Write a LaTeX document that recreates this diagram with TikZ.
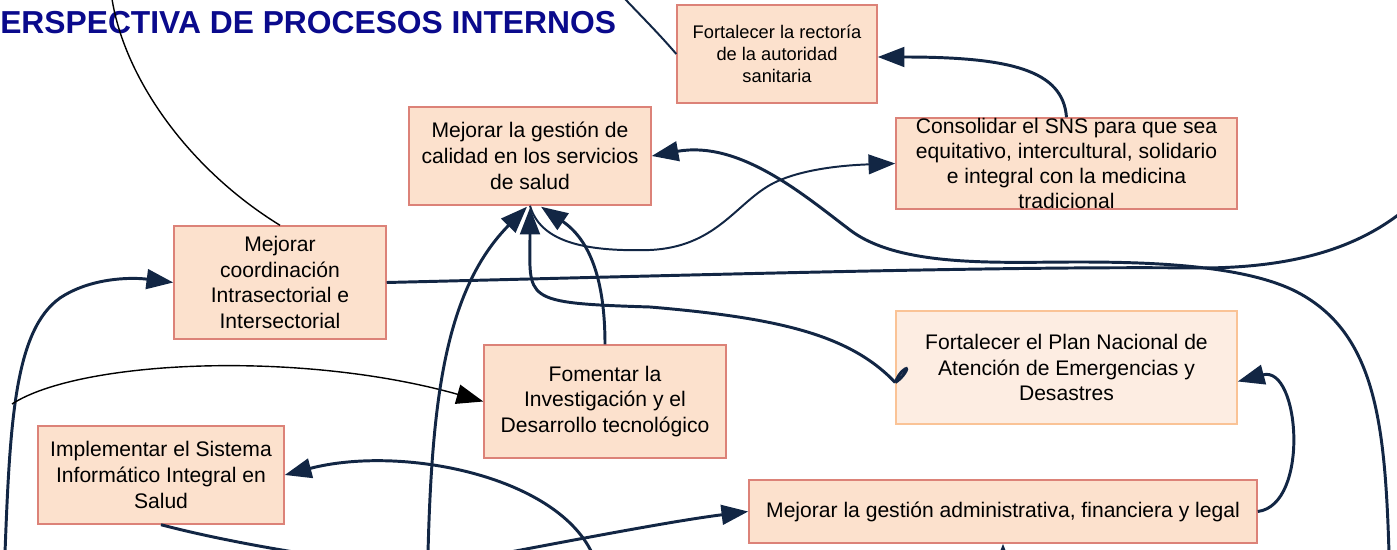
\documentclass[tikz,border=0pt]{standalone}
\usepackage{fontspec}
\setmainfont{Liberation Sans}
\usetikzlibrary{arrows.meta,calc}
\definecolor{peach}{RGB}{252,225,205}
\definecolor{salmon}{RGB}{220,130,120}
\definecolor{peachlt}{RGB}{253,237,226}
\definecolor{orangeb}{RGB}{250,195,150}
\definecolor{navy}{RGB}{18,38,68}
\definecolor{titleblue}{RGB}{10,10,140}
\tikzset{
  pbox/.style={draw=salmon, fill=peach, line width=1pt, align=center, inner sep=4pt,
    font=\fontsize{15}{18.4}\selectfont},
  pboxlt/.style={pbox, draw=orangeb, fill=peachlt},
  txt/.style={align=center, inner sep=0pt},
  nav/.style={draw=navy, line width=2.1pt},
  navthin/.style={draw=navy, line width=1.4pt},
  blk/.style={draw=black, line width=1pt},
  arr/.style={-{Triangle[length=19pt,width=14pt]}},
}
\begin{document}
\begin{tikzpicture}[x=0.025cm,y=-0.025cm]
\useasboundingbox (0,0) rectangle (1397,550);
\clip (0,0) rectangle (1397,550);
\node[anchor=base west, inner sep=0pt, text=titleblue, font=\bfseries\fontsize{22.6}{26}\selectfont] (title) at (0,34) {ERSPECTIVA DE PROCESOS INTERNOS};

% boxes
\node[pbox, minimum width=5cm, minimum height=2.45cm, font=\fontsize{13}{15.6}\selectfont] (rect) at (777,54) {Fortalecer la rectoría\\de la autoridad\\sanitaria};
\node[pbox, minimum width=6.05cm, minimum height=2.45cm] (cal) at (530,156) {Mejorar la gestión de\\calidad en los servicios\\de salud};
\node[pbox, minimum width=8.525cm, minimum height=2.275cm] (sns) at (1066.5,163.5) {};
\node[txt, font=\fontsize{15}{17.7}\selectfont] (snst) at (sns.center) {Consolidar el SNS para que sea\\equitativo, intercultural, solidario\\e integral con la medicina\\tradicional};
\node[pbox, minimum width=5.3cm, minimum height=2.825cm] (coord) at (280,282.5) {Mejorar\\coordinación\\Intrasectorial e\\Intersectorial};
\node[pbox, minimum width=6.05cm, minimum height=2.825cm] (fom) at (605,401.5) {Fomentar la\\Investigación y el\\Desarrollo tecnológico};
\node[pboxlt, minimum width=8.525cm, minimum height=2.825cm] (plan) at (1066.5,367.5) {Fortalecer el Plan Nacional de\\Atención de Emergencias y\\Desastres};
\node[pbox, minimum width=6.15cm, minimum height=2.45cm] (impl) at (161,475) {Implementar el Sistema\\Informático Integral en\\Salud};
\node[pbox, minimum width=12.7cm, minimum height=1.575cm] (adm) at (1003,511.5) {Mejorar la gestión administrativa, financiera y legal};

% free ends
\coordinate (tA) at (112,-1);
\coordinate (tB) at (625,-1);
\coordinate (tD) at (1389,553);
\coordinate (tF) at (1402,212);
\coordinate (tG) at (5,553);
\coordinate (tH) at (12,404);
\coordinate (tK) at (592,553);
\coordinate (tL) at (300,553);
\coordinate (tM) at (505,553);
\coordinate (tN) at (428,553);
\coordinate (tP) at (1003,600);

% connectors
\draw[blk] (tA) .. controls (125,80) and (190,170) .. (coord.north);
\draw[navthin] (tB) .. controls (645,20) and (660,35) .. (rect.west);
\draw[nav,arr] (sns.north) .. controls (1063,70) and (1010,57) .. ($(rect.east)+(0,3)$);
\draw[nav,arr] (tD) .. controls (1385,420) and (1375,330) .. (1293,290)
  .. controls (1240,265) and (1150,262) .. (1078,262)
  .. controls (1000,262) and (900,268) .. (850,230)
  .. controls (805,196) and (740,140) .. (cal.east);
\draw[navthin,arr] (cal.south) .. controls (540,240) and (580,252) .. (650,250)
  .. controls (715,247) and (735,205) .. (770,185)
  .. controls (800,168) and (850,165) .. (sns.west);
\draw[nav] (coord.east) .. controls (700,275) and (1000,266) .. (1200,268)
  .. controls (1300,268) and (1360,245) .. (tF);
\draw[nav,arr] (tG) .. controls (10,420) and (15,330) .. (60,298)
  .. controls (90,278) and (130,277) .. (coord.west);
\draw[blk,arr] (tH) .. controls (80,360) and (300,350) .. (fom.west);
\draw[nav,arr] (fom.north) .. controls (605,280) and (590,240) .. ($(cal.south)+(11,1)$);
\draw[nav,arr] ($(plan.west)+(0,15)$) .. controls (850,335) and (780,318) .. (650,307)
  .. controls (520,303) and (530,300) .. ($(cal.south)+(0,2)$);
\draw[nav] ($(plan.west)+(0,15)$) .. controls (903,378) and (910,366) .. (905,369)
  .. controls (900,372) and (897,378) .. ($(plan.west)+(0,15)$);
\draw[nav,arr] (tK) .. controls (555,475) and (400,445) .. (impl.east);
\draw[nav] (impl.south) .. controls (200,535) and (250,545) .. (tL);
\draw[nav,arr] (tM) .. controls (600,535) and (680,520) .. (adm.west);
\draw[nav,arr] (tN) .. controls (432,400) and (445,290) .. ($(cal.south)+(-3,1)$);
\draw[nav,arr] (adm.east) .. controls (1310,505) and (1300,365) .. ($(plan.east)+(0,14)$);
\draw[nav,arr] (tP) -- (adm.south);
\end{tikzpicture}
\end{document}
